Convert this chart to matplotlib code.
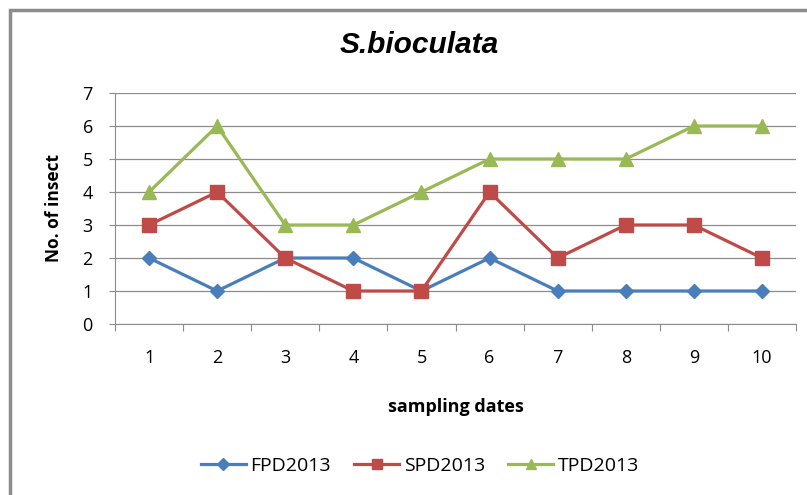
import matplotlib
matplotlib.use('Agg')
import numpy as np
import matplotlib.pyplot as plt
from matplotlib.patches import Rectangle

dates = [1, 2, 3, 4, 5, 6, 7, 8, 9, 10]
fpd = [2, 1, 2, 2, 1, 2, 1, 1, 1, 1]
spd = [3, 4, 2, 1, 1, 4, 2, 3, 3, 2]
tpd = [4, 6, 3, 3, 4, 5, 5, 5, 6, 6]

fig = plt.figure(figsize=(8.07, 4.95), dpi=100)
fig.patch.set_facecolor('white')

# outer chart border (runs off the right and bottom edges)
fig.patches.append(Rectangle((10 / 807, -0.1), 1.2, 1 - 10 / 495 + 0.1,
                             transform=fig.transFigure, fill=False,
                             edgecolor='#8c8c8c', linewidth=2.5))

ax = fig.add_axes([115 / 807, 1 - 324 / 495, (796 - 115) / 807, (324 - 93) / 495])

ax.plot(dates, fpd, color='#4a7ebb', lw=2.3, marker='D', ms=7.5, label='FPD2013')
ax.plot(dates, spd, color='#be4b48', lw=2.3, marker='s', ms=9.5, label='SPD2013')
ax.plot(dates, tpd, color='#98b954', lw=2.3, marker='^', ms=10, label='TPD2013')

ax.set_xlim(0.5, 10.5)
ax.set_ylim(0, 7)
ax.set_yticks(range(0, 8))
ax.yaxis.grid(True, color='#8c8c8c', lw=0.9)
ax.set_axisbelow(True)

ax.set_xticks(np.arange(0.5, 11, 1))
ax.set_xticklabels([])
ax.set_xticks(dates, minor=True)
ax.set_xticklabels([str(d) for d in dates], minor=True, fontsize=13, family='Open Sans')
ax.tick_params(axis='x', which='major', length=5, color='#8c8c8c')
ax.tick_params(axis='x', which='minor', length=0, pad=18)
ax.tick_params(axis='y', length=4, color='#8c8c8c', pad=12, labelsize=13)
for lbl in ax.get_yticklabels():
    lbl.set_family('Open Sans')

for s in ['top', 'right']:
    ax.spines[s].set_visible(False)
for s in ['left', 'bottom']:
    ax.spines[s].set_color('#8c8c8c')

ax.set_xlabel('sampling dates', fontsize=13, fontweight='bold', family='Open Sans', labelpad=22)
ax.set_ylabel('No. of insect', fontsize=12.5, fontweight='bold', family='Open Sans', labelpad=14)

fig.text(419 / 807, 1 - 45 / 495, 'S.bioculata', ha='center', va='center',
         fontsize=21.5, fontweight='bold', fontstyle='italic', family='Liberation Sans')

fig.legend(loc='center', bbox_to_anchor=(420 / 807, 1 - 466 / 495), ncol=3, frameon=False,
           prop={'family': 'Open Sans', 'size': 14}, handlelength=2.3, columnspacing=1.2,
           handletextpad=0.25, markerscale=0.75)

plt.savefig('out.png', dpi=100)
